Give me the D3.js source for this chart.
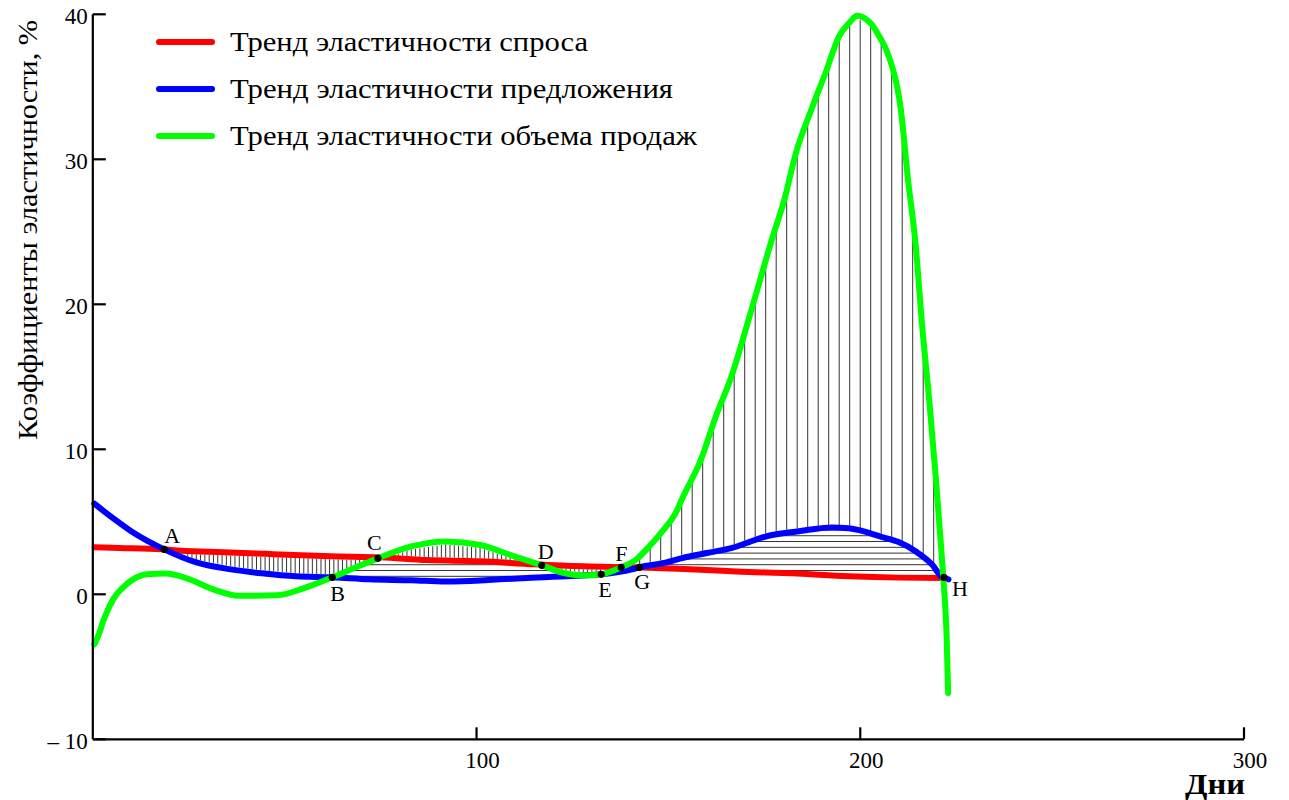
<!DOCTYPE html>
<html>
<head>
<meta charset="utf-8">
<script src="https://cdn.jsdelivr.net/npm/d3@7/dist/d3.min.js"></script>
<style>
  body { margin: 0; background: #ffffff; }
  svg text { font-family: "Liberation Serif", "Times New Roman", "DejaVu Serif", serif; fill: #000; }
</style>
</head>
<body>
<svg id="chart" width="1289" height="800" font-family="Liberation Serif, Times New Roman, DejaVu Serif, serif"></svg>
<script>
// ---- data -------------------------------------------------------------
// Demand elasticity trend (red)
const demandDays = [0.5, 7, 18, 23, 34, 47, 62, 75, 87, 101, 115, 128, 141, 154, 169, 182, 197, 210, 222];
const demandVals = [3.25, 3.2, 3.1, 3.0, 2.9, 2.77, 2.62, 2.55, 2.36, 2.28, 2.07, 1.93, 1.86, 1.75, 1.56, 1.45, 1.25, 1.15, 1.12];

// Supply elasticity trend (blue)
const supplyDays = [0.4, 5, 10, 18.6, 27, 36, 44, 53, 62.5, 72, 83, 92, 101, 106, 119, 132.5, 140.5, 142.4, 149.5, 153.6, 160, 166.6, 171, 175.5, 184, 192.7, 197, 205.7, 210, 214.5, 218.7, 221.1, 223];
const supplyVals = [6.25, 5.3, 4.35, 3.1, 2.2, 1.72, 1.45, 1.24, 1.17, 1.03, 0.97, 0.88, 0.95, 1.03, 1.2, 1.38, 1.72, 1.86, 2.2, 2.5, 2.85, 3.2, 3.6, 4.0, 4.35, 4.6, 4.55, 3.95, 3.6, 2.95, 2.05, 1.24, 1.03];

// Sales volume elasticity trend (green)
const salesDays = [0.4, 1.8, 2.6, 4, 5.3, 7.9, 10.5, 14.1, 19, 24.5, 31.4, 38, 48, 55.6, 62.4, 68.6, 74.3, 83, 92, 101, 110, 117, 123, 128, 132.5, 137.7, 141.6, 145, 148.4, 152, 153.6, 158.5, 162.4, 166.4, 170.2, 173.7, 177, 180.2, 183.2, 187.5, 191, 194.5, 197.1, 199.2, 201.8, 203, 204.9, 206.7, 208.3, 209.6, 210.6, 211.4, 212.2, 214.5, 216.1, 218, 219.7, 220.5, 221.6, 222.5, 222.9];
const salesVals = [-3.45, -2.6, -1.93, -1.03, -0.35, 0.48, 1.03, 1.38, 1.43, 1.1, 0.34, -0.1, -0.07, 0.48, 1.17, 1.86, 2.48, 3.3, 3.65, 3.4, 2.6, 2.0, 1.45, 1.3, 1.38, 1.86, 2.4, 3.3, 4.34, 5.66, 6.6, 9.3, 12.3, 15.0, 18.3, 21.5, 24.5, 27.2, 30.4, 33.6, 36.0, 38.5, 39.4, 39.9, 39.6, 39.3, 38.5, 37.6, 36.4, 35.0, 33.4, 31.4, 29.2, 23.9, 18.6, 13.3, 8.0, 5.2, 1.25, -2.9, -6.8];

// Intersection points of the trends
const pointNames = ["A", "B", "C", "D", "E", "F", "G", "H"];
const pointDays  = [18.6, 62.4, 74.3, 117, 132.5, 137.7, 142.4, 221.8];
const pointVals  = [3.1, 1.17, 2.48, 2.0, 1.38, 1.86, 1.86, 1.17];

// Axes
const xTicks = [100, 200, 300];
const yTicks = [-10, 0, 10, 20, 30, 40];
const yTickLabels = ["– 10", "0", "10", "20", "30", "40"];

// Legend
const seriesNames = [
  "Тренд эластичности спроса",
  "Тренд эластичности предложения",
  "Тренд эластичности объема продаж"
];
const seriesColors = ["#ff0000", "#0000ff", "#00ff00"];

const xTitle = "Дни";
const yTitle = "Коэффициенты эластичности, %";

// ---- layout -----------------------------------------------------------
const SERIF = "Liberation Serif, Times New Roman, DejaVu Serif, serif";
const svg = d3.select("#chart");
const x = d3.scaleLinear().domain([0, 300]).range([92.8, 1244]);
const y = d3.scaleLinear().domain([-10, 40]).range([739.3, 14.3]);

// piecewise-linear lookups for each trend
const demandAt = d3.scaleLinear().domain(demandDays).range(demandVals).clamp(true);
const supplyAt = d3.scaleLinear().domain(supplyDays).range(supplyVals).clamp(true);
const salesAt  = d3.scaleLinear().domain(salesDays).range(salesVals).clamp(true);
const sorted3 = t => [demandAt(t), supplyAt(t), salesAt(t)].sort((a, b) => a - b);

const dayA = pointDays[0], dayB = pointDays[1], dayF = pointDays[5], dayH = pointDays[7];

// ---- hatching ---------------------------------------------------------
const hatch = svg.append("g").attr("stroke", "#333").attr("stroke-width", 1);

// vertical hatching: between the upper and the middle trend
const vxs = [];
for (let px = x(dayA) + 2; px < x(dayF); px += 4.3) vxs.push(px);
for (let px = x(dayF) + 8; px < x(dayH) - 2; px += 10.5) vxs.push(px);
vxs.forEach(px => {
  const v = sorted3(x.invert(px));
  const top = y(v[2]) + 3, mid = y(v[1]) - 3;
  if (mid - top > 0.5) {
    hatch.append("line").attr("x1", px).attr("x2", px).attr("y1", top).attr("y2", mid);
  }
});

// horizontal hatching: between the middle and the lower trend
const levels = d3.range(0.84, 4.6, 0.4);
levels.forEach(L => {
  let start = null;
  const x0 = x(dayB), x1 = x(dayH);
  for (let px = x0; px <= x1; px += 0.5) {
    const v = sorted3(x.invert(px));
    const inside = v[0] < L - 0.1 && L + 0.1 < v[1];
    if (inside && start === null) start = px;
    if ((!inside || px + 0.5 > x1) && start !== null) {
      if (px - start > 1) {
        hatch.append("line").attr("x1", start).attr("x2", px)
          .attr("y1", y(L)).attr("y2", y(L));
      }
      start = null;
    }
  }
});

// ---- trend lines ------------------------------------------------------
const line = d3.line().x(d => x(d[0])).y(d => y(d[1])).curve(d3.curveMonotoneX);
const seriesData = [
  d3.zip(demandDays, demandVals),
  d3.zip(supplyDays, supplyVals),
  d3.zip(salesDays, salesVals)
];
seriesData.forEach((d, i) => {
  svg.append("path").datum(d)
    .attr("d", line)
    .attr("fill", "none")
    .attr("stroke", seriesColors[i])
    .attr("stroke-width", 6)
    .attr("stroke-linejoin", "round")
    .attr("stroke-linecap", "round");
});

// ---- intersection points ---------------------------------------------
const labelOffset = { A: [0, -6], B: [-2, 24], C: [-11, -8], D: [-4, -6],
                      E: [-3, 23], F: [-6, -6], G: [-5, 22], H: [8, 19] };
pointNames.forEach((n, i) => {
  const cx = x(pointDays[i]), cy = y(pointVals[i]);
  svg.append("circle").attr("cx", cx).attr("cy", cy).attr("r", 3.6).attr("fill", "#000");
  svg.append("text").attr("x", cx + labelOffset[n][0]).attr("y", cy + labelOffset[n][1])
    .attr("font-family", SERIF).attr("font-size", 22).text(n);
});

// ---- axes -------------------------------------------------------------
const axes = svg.append("g").attr("stroke", "#000").attr("stroke-width", 2.2);
axes.append("line").attr("x1", x(0)).attr("x2", x(0)).attr("y1", y(40)).attr("y2", y(-10));
axes.append("line").attr("x1", x(0)).attr("x2", x(300)).attr("y1", y(-10)).attr("y2", y(-10));
yTicks.forEach(v => {
  axes.append("line").attr("x1", x(0)).attr("x2", x(0) + 13).attr("y1", y(v)).attr("y2", y(v));
});
xTicks.forEach(v => {
  axes.append("line").attr("x1", x(v)).attr("x2", x(v)).attr("y1", y(-10)).attr("y2", y(-10) - 12);
});

yTicks.forEach((v, i) => {
  svg.append("text").attr("x", x(0) - 5).attr("y", y(v) + 10)
    .attr("text-anchor", "end").attr("font-family", SERIF).attr("font-size", 23)
    .text(yTickLabels[i]);
});
xTicks.forEach(v => {
  svg.append("text").attr("x", x(v) + 6).attr("y", y(-10) + 29)
    .attr("text-anchor", "middle").attr("font-family", SERIF).attr("font-size", 23).text(v);
});

svg.append("text").attr("x", 1245).attr("y", 794)
  .attr("text-anchor", "end").attr("font-family", SERIF).attr("font-size", 30).attr("font-weight", "bold")
  .attr("textLength", 60).attr("lengthAdjust", "spacingAndGlyphs").text(xTitle);

svg.append("text").attr("transform", "translate(37,230) rotate(-90)")
  .attr("text-anchor", "middle").attr("font-family", SERIF).attr("font-size", 28)
  .attr("textLength", 420).attr("lengthAdjust", "spacingAndGlyphs").text(yTitle);

// ---- legend -----------------------------------------------------------
const legendWidths = [358, 443, 467];
seriesNames.forEach((n, i) => {
  const ly = 42 + i * 47;
  svg.append("line").attr("x1", 159).attr("x2", 212).attr("y1", ly).attr("y2", ly)
    .attr("stroke", seriesColors[i]).attr("stroke-width", 6).attr("stroke-linecap", "round");
  svg.append("text").attr("x", 230).attr("y", ly + 9).attr("font-family", SERIF).attr("font-size", 27)
    .attr("textLength", legendWidths[i]).attr("lengthAdjust", "spacingAndGlyphs").text(n);
});
</script>
</body>
</html>
